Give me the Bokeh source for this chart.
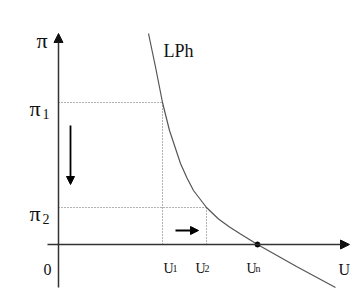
from bokeh.plotting import figure
from bokeh.models import Arrow, NormalHead, Label, Range1d
from bokeh.embed import file_html
from bokeh.resources import INLINE

# Demand curve LPh (U, pi)
curve_u = [9.0, 9.7, 10.4, 11.1, 12.2, 12.85, 13.5, 14.8, 16.0, 17.1, 18.2, 19.9, 23.8, 27.7]
curve_pi = [21.1, 17.75, 14.2, 11.4, 8.1, 6.65, 5.4, 3.7, 2.55, 1.75, 1.05, 0.0, -2.2, -4.3]

# Marked points
u_vals = [10.4, 14.8]          # U1, U2
pi_vals = [14.2, 3.7]          # pi1, pi2
u_n = 19.9                     # Un
u_tick_labels = ["1", "2", "n"]
pi_tick_labels = ["1", "2"]

FONT = "Liberation Serif"

p = figure(width=364, height=308, output_backend="svg", toolbar_location=None,
           x_range=Range1d(-5.8, 30.6), y_range=Range1d(-6.4, 24.4),
           x_axis_type=None, y_axis_type=None, min_border=0)
p.grid.visible = False
p.outline_line_color = None
p.background_fill_color = "white"
p.border_fill_color = "white"

# Axes with arrow heads
p.add_layout(Arrow(end=NormalHead(size=9, fill_color="#111", line_color="#111"),
                   x_start=0, y_start=-4.3, x_end=0, y_end=21.1,
                   line_width=1.5, line_color="#333"))
p.add_layout(Arrow(end=NormalHead(size=9, fill_color="#111", line_color="#111"),
                   x_start=-1.1, y_start=0, x_end=29.1, y_end=0,
                   line_width=1.5, line_color="#333"))

# Dotted guide lines
p.segment(x0=[0, 0], y0=pi_vals, x1=u_vals, y1=pi_vals,
          line_color="#666", line_width=1, line_dash="1 2")
p.segment(x0=u_vals, y0=pi_vals, x1=u_vals, y1=[0, 0],
          line_color="#666", line_width=1, line_dash="1 2")

# Curve
p.line(curve_u, curve_pi, line_color="#555", line_width=1.2)

# Natural rate point
p.scatter([u_n], [0], size=5, color="black")

# Direction arrows
p.add_layout(Arrow(end=NormalHead(size=8, fill_color="black", line_color="black"),
                   x_start=1.2, y_start=11.9, x_end=1.2, y_end=6.0,
                   line_width=1.8, line_color="black"))
p.add_layout(Arrow(end=NormalHead(size=8, fill_color="black", line_color="black"),
                   x_start=11.7, y_start=1.4, x_end=14.0, y_end=1.4,
                   line_width=1.8, line_color="black"))


def lab(text, x, y, size, align="left"):
    p.add_layout(Label(x=x, y=y, text=text, text_font=FONT,
                       text_font_size=f"{size}px", text_color="#111",
                       text_align=align, text_baseline="alphabetic"))


# Axis titles
lab("\u03c0", -2.2, 20.4, 22)
lab("U", 28.0, -2.5, 16)
lab("0", -1.1, -2.5, 16, "center")
lab("LPh", 10.5, 19.4, 18)

# pi labels
for v, s in zip(pi_vals, pi_tick_labels):
    lab("\u03c0", -2.9, v - 0.6, 22)
    lab(s, -1.6, v - 1.1, 14)

# U labels
u_all = u_vals + [u_n]
u_off = [0.1, -1.1, -1.1]
for v, s, o in zip(u_all, u_tick_labels, u_off):
    lab("U", v + o, -2.4, 14)
    lab(s, v + o + 0.9, -2.4, 10)

open("out.html", "w").write(file_html(p, INLINE))
